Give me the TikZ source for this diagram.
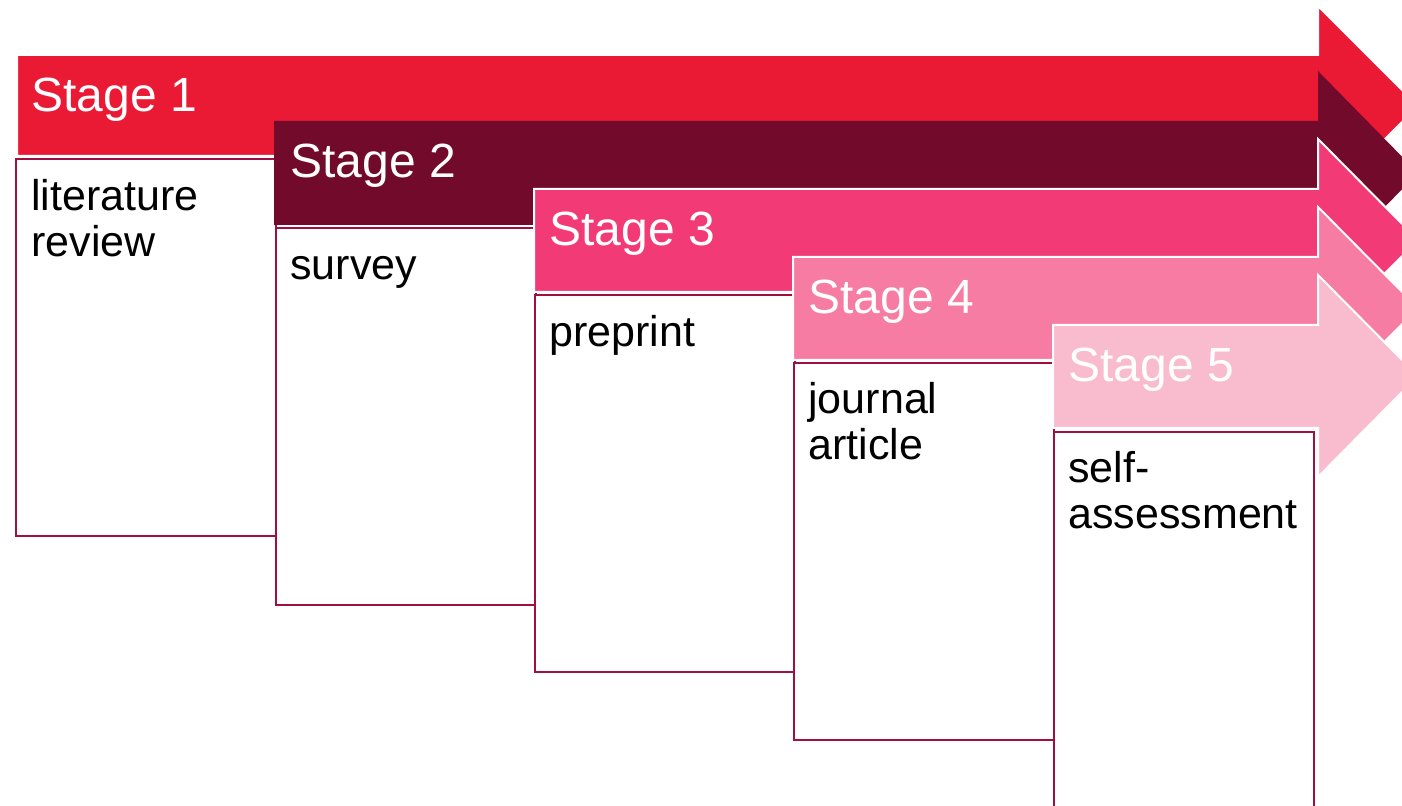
\documentclass[tikz,border=0pt]{standalone}
\usepackage{fontspec}
\setmainfont{Liberation Sans}

\definecolor{stageone}{HTML}{EA1A34}
\definecolor{stagetwo}{HTML}{720A2B}
\definecolor{stagethree}{HTML}{F23B76}
\definecolor{stagefour}{HTML}{F77CA3}
\definecolor{stagefive}{HTML}{F9BCCF}
\definecolor{boxline}{HTML}{A0103F}

\begin{document}
\begin{tikzpicture}[x = 0.5pt, y = -0.5pt,
    band/.style = {draw = white, line width = 1pt},
    stagebox/.style = {draw = boxline, fill = white, line width = 1.2pt, rectangle,
        minimum width = 130pt, minimum height = 188.5pt, inner sep = 0pt, anchor = north west},
    stagetext/.style = {text = white, font = \fontsize{24}{26}\selectfont, inner sep = 0pt, anchor = base west},
    boxtext/.style = {text = black, font = \fontsize{21.5}{22.8}\selectfont, inner sep = 0pt,
        align = left, anchor = north west, execute at begin node = {\rule{0pt}{16pt}}}]
    \useasboundingbox (0,0) rectangle (1402,806);
    \clip (0,0) rectangle (1402,806);
    % stage 1
    \fill[stageone, band]
    (17,55) -- (1318,55) -- (1318,6) -- (1418,106) -- (1318,206) -- (1318,156) -- (17,156) -- cycle;
    \node[stagetext] (s1) at (31,112) {Stage 1};
    \node[stagebox] (b1) at (15,158) {};
    \node[boxtext] (t1) at ([xshift = 8pt, yshift = -10.5pt]b1.north west) {literature\\review};
    % stage 2
    \fill[stagetwo]
    (274,121) -- (1318,121) -- (1318,71) -- (1418,173) -- (1318,275) -- (1318,225) -- (274,225) -- cycle;
    \node[stagetext] (s2) at (290,178) {Stage 2};
    \node[stagebox] (b2) at (275,227) {};
    \node[boxtext] (t2) at ([xshift = 7.5pt, yshift = -10pt]b2.north west) {survey};
    % stage 3
    \fill[stagethree, band]
    (534,189) -- (1318,189) -- (1318,139) -- (1418,240) -- (1318,341) -- (1318,292) -- (534,292) -- cycle;
    \node[stagetext] (s3) at (549,246) {Stage 3};
    \node[stagebox] (b3) at (534,294) {};
    \node[boxtext] (t3) at ([xshift = 7.5pt, yshift = -10pt]b3.north west) {preprint};
    % stage 4
    \fill[stagefour, band]
    (793,257) -- (1318,257) -- (1318,207) -- (1418,308) -- (1318,409) -- (1318,360) -- (793,360) -- cycle;
    \node[stagetext] (s4) at (808,314) {Stage 4};
    \node[stagebox] (b4) at (793,362) {};
    \node[boxtext] (t4) at ([xshift = 7.5pt, yshift = -10pt]b4.north west) {journal\\article};
    % stage 5
    \fill[stagefive, band]
    (1053,325) -- (1318,325) -- (1318,275) -- (1418,376) -- (1318,477) -- (1318,428) -- (1053,428) -- cycle;
    \node[stagetext] (s5) at (1068,382) {Stage 5};
    \node[stagebox] (b5) at (1053,431) {};
    \node[boxtext] (t5) at ([xshift = 7.5pt, yshift = -10pt]b5.north west) {self-\\assessment};
\end{tikzpicture}
\end{document}
